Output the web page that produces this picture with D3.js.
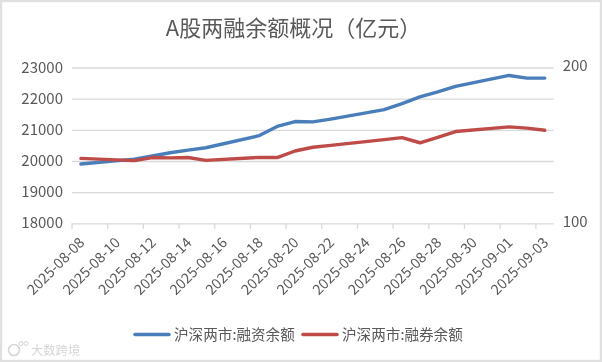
<!DOCTYPE html>
<html><head><meta charset="utf-8">
<script src="https://cdn.jsdelivr.net/npm/d3@7/dist/d3.min.js"></script>
<style>html,body{margin:0;padding:0;background:#fff}svg{display:block;filter:blur(0.35px)}text{font-family:"Noto Sans CJK SC","Noto Sans",sans-serif}</style>
</head><body><svg id="c" width="602" height="362"></svg>
<script>
const title = "A股两融余额概况（亿元）";
const calendarDays = ["2025-08-08","2025-08-09","2025-08-10","2025-08-11","2025-08-12","2025-08-13","2025-08-14","2025-08-15","2025-08-16","2025-08-17","2025-08-18","2025-08-19","2025-08-20","2025-08-21","2025-08-22","2025-08-23","2025-08-24","2025-08-25","2025-08-26","2025-08-27","2025-08-28","2025-08-29","2025-08-30","2025-08-31","2025-09-01","2025-09-02","2025-09-03"];
const tickDays = ["2025-08-08","2025-08-10","2025-08-12","2025-08-14","2025-08-16","2025-08-18","2025-08-20","2025-08-22","2025-08-24","2025-08-26","2025-08-28","2025-08-30","2025-09-01","2025-09-03"];
const tradingDays = ["2025-08-08","2025-08-11","2025-08-12","2025-08-13","2025-08-14","2025-08-15","2025-08-18","2025-08-19","2025-08-20","2025-08-21","2025-08-22","2025-08-25","2025-08-26","2025-08-27","2025-08-28","2025-08-29","2025-09-01","2025-09-02","2025-09-03"];
const financing = [19902,20060,20160,20265,20350,20425,20815,21110,21265,21255,21345,21650,21840,22060,22220,22395,22745,22660,22660];
const lending = [141.7,140.2,142.2,142.0,142.2,140.4,142.3,142.2,146.4,148.8,150,153.7,155,151.7,155.2,158.9,161.9,161.1,159.7];
const leftTicks = [18000,19000,20000,21000,22000,23000];
const rightTicks = [100,200];
const seriesNames = ["沪深两市:融资余额","沪深两市:融券余额"];
const watermark = "大数跨境";
const colors = {blue:"#4a7ebb",red:"#be4b48",grid:"#d9d9d9",text:"#595959",frame:"#e0e0e0",mark:"#d6d6d6"};

const svg = d3.select("#c");
svg.append("rect").attr("x",1).attr("y",1).attr("width",600).attr("height",360)
  .attr("fill","#fff").attr("stroke",colors.frame).attr("stroke-width",2.4);

const x = d3.scaleBand().domain(calendarDays).range([72,553.7]);
const cx = d => x(d)+x.bandwidth()/2;
const yL = d3.scaleLinear().domain([18000,23000]).range([223.3,67.5]);
const yR = d3.scaleLinear().domain([100,200]).range([223.3,67.5]);

svg.append("text").attr("x",293.5).attr("y",35.5).attr("text-anchor","middle")
  .attr("font-size",22).attr("fill",colors.text).text(title);

const gl = d3.axisLeft(yL).tickValues(leftTicks).tickSize(-(553.7-72)).tickPadding(9).tickFormat(d3.format("d"));
const g = svg.append("g").attr("transform","translate(72,0)").call(gl);
g.select(".domain").remove();
g.selectAll("line").attr("stroke",colors.grid).attr("stroke-width",1.3);
g.selectAll("text").attr("font-size",15).attr("fill",colors.text).attr("dy","0.3em");

const gr = d3.axisRight(yR).tickValues(rightTicks).tickSize(0).tickPadding(9).tickFormat(d3.format("d"));
const g2 = svg.append("g").attr("transform","translate(553.7,0)").call(gr);
g2.select(".domain").remove();
g2.selectAll("text").attr("font-size",15).attr("fill",colors.text).attr("dy","0.2em");

const gb = svg.append("g");
gb.selectAll("line").data(tickDays).join("line")
  .attr("x1",d=>x(d)).attr("x2",d=>x(d)).attr("y1",223.3).attr("y2",229)
  .attr("stroke",colors.grid).attr("stroke-width",1.3);
gb.selectAll("text").data(tickDays).join("text")
  .attr("text-anchor","end").attr("font-size",14.4).attr("fill",colors.text)
  .attr("transform",d=>`translate(${cx(d)+1},${240}) rotate(-45)`)
  .attr("dy","0.35em").text(d=>d);

const line = d3.line().x(d=>cx(d[0])).y(d=>d[1]);
[[financing,yL,colors.blue],[lending,yR,colors.red]].forEach(([vals,sc,col])=>{
  svg.append("path").attr("fill","none").attr("stroke",col).attr("stroke-width",3.4)
    .attr("stroke-linejoin","round").attr("stroke-linecap","round")
    .attr("d",line(tradingDays.map((d,i)=>[d,sc(vals[i])])));
});

const legend = [[135,174,colors.blue,seriesNames[0]],[303,342,colors.red,seriesNames[1]]];
legend.forEach(([a,t,col,name])=>{
  svg.append("line").attr("x1",a).attr("x2",a+34).attr("y1",334.5).attr("y2",334.5)
    .attr("stroke",col).attr("stroke-width",3.6).attr("stroke-linecap","round");
  svg.append("text").attr("x",t).attr("y",340).attr("font-size",14.6).attr("fill",colors.text).text(name);
});

svg.append("text").attr("x",31).attr("y",355).attr("font-size",12.3).attr("fill",colors.mark).text(watermark);
svg.append("circle").attr("cx",14).attr("cy",350).attr("r",5.5).attr("fill","none").attr("stroke",colors.mark).attr("stroke-width",1.6);
[[21,343.5],[26,343.5]].forEach(([a,b])=>svg.append("circle").attr("cx",a).attr("cy",b).attr("r",2).attr("fill","none").attr("stroke",colors.mark).attr("stroke-width",1));
</script></body></html>
